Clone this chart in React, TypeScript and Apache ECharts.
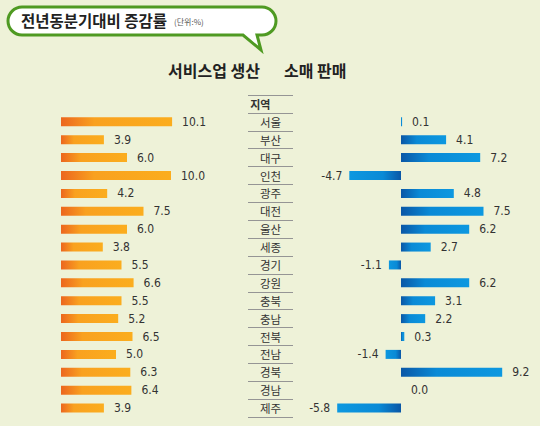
import React, { useEffect, useRef } from "react";
import * as echarts from "echarts";

const regions = ["서울", "부산", "대구", "인천", "광주", "대전", "울산", "세종", "경기", "강원", "충북", "충남", "전북", "전남", "경북", "경남", "제주"];
const serviceValues = [10.1, 3.9, 6.0, 10.0, 4.2, 7.5, 6.0, 3.8, 5.5, 6.6, 5.5, 5.2, 6.5, 5.0, 6.3, 6.4, 3.9];
const retailValues = [0.1, 4.1, 7.2, -4.7, 4.8, 7.5, 6.2, 2.7, -1.1, 6.2, 3.1, 2.2, 0.3, -1.4, 9.2, 0.0, -5.8];
const headerLabel = "지역";
const titleText = "전년동분기대비 증감률";
const unitText = "(단위:%)";
const leftTitle = "서비스업 생산";
const rightTitle = "소매 판매";

const bubblePath =
  "M22,7 H262 A14,14 0 0 1 276,21 A14,14 0 0 1 262,35 H257 L261,50 L243,35 H22 A14,14 0 0 1 8,21 A14,14 0 0 1 22,7 Z";
echarts.graphic.registerShape("bubble2", echarts.graphic.extendPath(bubblePath, {}) as any);

export default function App() {
  const ref = useRef<HTMLDivElement>(null);
  useEffect(() => {
    const chart = echarts.init(ref.current!, null, { renderer: "svg" });
    const cats = [headerLabel, ...regions];
    const font = "'Noto Sans CJK KR', 'Noto Sans', sans-serif";
    const numFont = "'DejaVu Sans Condensed', 'Liberation Sans Narrow', 'Roboto', sans-serif";
    const orange = new echarts.graphic.LinearGradient(0, 0, 1, 0, [
      { offset: 0, color: "#ec661e" },
      { offset: 0.3, color: "#f9a11f" },
      { offset: 1, color: "#fbad1e" },
    ]);
    const bluePos = () =>
      new echarts.graphic.LinearGradient(0, 0, 1, 0, [
        { offset: 0, color: "#0a57a6" },
        { offset: 0.35, color: "#0a8ad6" },
        { offset: 1, color: "#0d98e0" },
      ]);
    const blueNeg = () =>
      new echarts.graphic.LinearGradient(0, 0, 1, 0, [
        { offset: 0, color: "#0d98e0" },
        { offset: 0.65, color: "#0a8ad6" },
        { offset: 1, color: "#0a57a6" },
      ]);
    const top = 95;
    const height = 322;
    const labelStyle = {
      show: true,
      fontFamily: numFont,
      fontSize: 12,
      color: "#333",
      formatter: (p: any) => Number(p.value).toFixed(1),
    };
    chart.setOption({
      animation: false,
      backgroundColor: "#eef2d8",
      grid: [
        { left: 61, width: 165, top, height },
        { left: 248, width: 45, top, height },
        { left: 313, width: 220, top, height },
      ],
      xAxis: [
        { gridIndex: 0, type: "value", min: 0, max: 15, show: false },
        { gridIndex: 1, type: "value", min: 0, max: 1, show: false },
        { gridIndex: 2, type: "value", min: -8, max: 12, show: false },
      ],
      yAxis: [
        { gridIndex: 0, type: "category", data: cats, inverse: true, show: false },
        {
          gridIndex: 1,
          type: "category",
          data: cats.map((c, i) =>
            i === 0 ? { value: c, textStyle: { fontWeight: "bold", fontSize: 11 } } : c
          ),
          inverse: true,
          axisLine: { show: false },
          axisTick: { show: false },
          axisLabel: {
            align: "center",
            margin: -22.5,
            fontFamily: font,
            fontSize: 11.5,
            color: "#333",
          },
          splitLine: { show: true, lineStyle: { color: "#959595", width: 1 } },
        },
        { gridIndex: 2, type: "category", data: cats, inverse: true, show: false },
      ],
      series: [
        {
          type: "bar",
          xAxisIndex: 0,
          yAxisIndex: 0,
          barWidth: 9,
          data: ["-", ...serviceValues],
          itemStyle: { color: orange },
          label: { ...labelStyle, position: "right", distance: 10 },
        },
        {
          type: "bar",
          xAxisIndex: 2,
          yAxisIndex: 2,
          barWidth: 9,
          data: [
            "-",
            ...retailValues.map((v) => ({
              value: v,
              itemStyle: { color: v < 0 ? blueNeg() : bluePos() },
              label: { position: v < 0 ? "left" : "right", distance: v < 0 ? 7 : 10 },
            })),
          ],
          label: { ...labelStyle },
        },
      ],
      graphic: [
        {
          type: "bubble2",
          x: 0,
          y: 0,
          style: { fill: "#ffffff", stroke: "#4f9a22", lineWidth: 3 },
        },
        {
          type: "text",
          left: 21,
          top: 12,
          style: { text: titleText, fontFamily: font, fontSize: 15.5, fontWeight: "bold", fill: "#222" },
        },
        {
          type: "text",
          left: 174,
          top: 17,
          style: { text: unitText, fontFamily: font, fontSize: 8, fill: "#555" },
        },
        {
          type: "text",
          left: 168,
          top: 62,
          style: { text: leftTitle, fontFamily: font, fontSize: 16, fontWeight: "bold", fill: "#222" },
        },
        {
          type: "text",
          left: 284,
          top: 62,
          style: { text: rightTitle, fontFamily: font, fontSize: 16, fontWeight: "bold", fill: "#222" },
        },
      ],
    });
    return () => chart.dispose();
  }, []);
  return <div ref={ref} style={{ position: "fixed", left: 0, top: 0, width: 540, height: 426 }} />;
}
